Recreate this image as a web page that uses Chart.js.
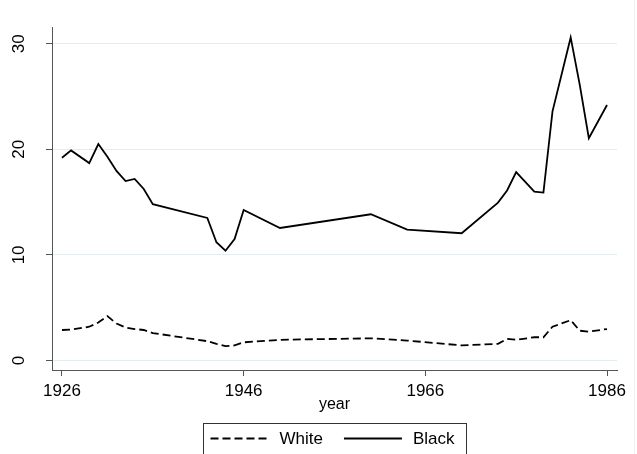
<!DOCTYPE html>
<html>
<head>
<meta charset="utf-8">
<script src="https://cdn.jsdelivr.net/npm/chart.js@4.4.1/dist/chart.umd.min.js"></script>
<style>
  html, body { margin: 0; padding: 0; background: #fff; }
  #wrap { position: relative; width: 637px; height: 454px; }
</style>
</head>
<body>
<div id="wrap"><canvas id="c" width="637" height="454"></canvas></div>
<script>
// Observation years and rates per group
const years = [1926, 1927, 1929, 1930, 1931, 1932, 1933, 1934, 1935, 1936,
               1942, 1943, 1944, 1945, 1946, 1950, 1960, 1964, 1970, 1974,
               1975, 1976, 1978, 1979, 1980, 1982, 1983, 1984, 1986];
const whiteRate = [2.89, 2.92, 3.2, 3.6, 4.2, 3.5, 3.13, 2.98, 2.89, 2.6,
                   1.83, 1.58, 1.36, 1.43, 1.72, 1.96, 2.1, 1.89, 1.43, 1.58,
                   2.05, 1.96, 2.2, 2.2, 3.2, 3.82, 2.82, 2.73, 2.98];
const blackRate = [19.2, 19.9, 18.7, 20.5, 19.3, 17.95, 17.0, 17.2, 16.25, 14.8,
                   13.5, 11.2, 10.4, 11.5, 14.25, 12.55, 13.85, 12.4, 12.05, 14.95,
                   16.1, 17.85, 16.0, 15.9, 23.6, 30.6, 26.1, 21.05, 24.2];
const seriesNames = ['White', 'Black'];
const xTickValues = [1926, 1946, 1966, 1986];
const yTickValues = [0, 10, 20, 30];
const xAxisTitle = 'year';

const FONT = "'Liberation Sans', Arial, Helvetica, sans-serif";
const AXIS_GREY = '#555555';

function toPoints(ys) {
  return years.map((yr, i) => ({ x: yr, y: ys[i] }));
}

// Boxed legend under the axis title, plus the faint outer frame edge
const stataLegend = {
  id: 'stataLegend',
  beforeDraw(chart) {
    const ctx = chart.ctx;
    ctx.save();
    ctx.fillStyle = '#ffffff';
    ctx.fillRect(0, 0, chart.width, chart.height);
    ctx.strokeStyle = '#eef2f4';
    ctx.lineWidth = 1;
    ctx.beginPath();
    ctx.moveTo(634.5, 0);
    ctx.lineTo(634.5, chart.height);
    ctx.stroke();
    ctx.restore();
  },
  afterDraw(chart) {
    const ctx = chart.ctx;
    const area = chart.chartArea;
    const boxW = 263, boxTop = 423.5;
    const cx = (area.left + area.right) / 2;
    const boxLeft = Math.round(cx - boxW / 2) + 0.5;
    ctx.save();
    ctx.strokeStyle = '#333333';
    ctx.lineWidth = 1;
    ctx.strokeRect(boxLeft, boxTop, boxW, 60);

    const lineY = 438.5;
    const items = chart.data.datasets.map((ds, i) => ({
      text: seriesNames[i], dash: ds.borderDash || [], width: ds.borderWidth
    }));
    let x = boxLeft + 7;
    ctx.font = '17px ' + FONT;
    ctx.textBaseline = 'middle';
    ctx.fillStyle = '#000';
    items.forEach((it) => {
      ctx.strokeStyle = '#000';
      ctx.lineWidth = it.width;
      ctx.setLineDash(it.dash);
      ctx.beginPath();
      ctx.moveTo(x, lineY);
      ctx.lineTo(x + 58, lineY);
      ctx.stroke();
      ctx.setLineDash([]);
      ctx.textAlign = 'left';
      ctx.fillText(it.text, x + 69, lineY + 1);
      x += 69 + ctx.measureText(it.text).width + 21;
    });
    ctx.restore();
  }
};

new Chart(document.getElementById('c'), {
  type: 'line',
  data: {
    datasets: [
      {
        label: seriesNames[0],
        data: toPoints(whiteRate),
        borderColor: '#000',
        borderWidth: 1.8,
        borderDash: [8, 4],
        pointRadius: 0,
        tension: 0,
        fill: false
      },
      {
        label: seriesNames[1],
        data: toPoints(blackRate),
        borderColor: '#000',
        borderWidth: 1.8,
        pointRadius: 0,
        tension: 0,
        fill: false
      }
    ]
  },
  options: {
    responsive: false,
    devicePixelRatio: 1,
    animation: false,
    layout: { padding: { top: 22, right: 20, left: 0, bottom: 39.4 } },
    plugins: {
      legend: { display: false },
      tooltip: { enabled: false }
    },
    scales: {
      x: {
        type: 'linear',
        min: 1924.9,
        max: 1987.1,
        afterBuildTicks: (s) => { s.ticks = xTickValues.map(v => ({ value: v })); },
        afterFit: (s) => { s.height = 44.6; },
        ticks: {
          callback: (v) => String(v),
          font: { size: 17, family: FONT },
          color: '#000',
          padding: 5,
          maxRotation: 0,
          minRotation: 0,
          autoSkip: false
        },
        grid: {
          drawOnChartArea: false,
          color: AXIS_GREY,
          tickColor: AXIS_GREY,
          tickLength: 6
        },
        border: { color: AXIS_GREY, width: 1 },
        title: {
          display: true,
          text: xAxisTitle,
          font: { size: 16, family: FONT },
          color: '#000',
          padding: { top: 0, bottom: 0 }
        }
      },
      y: {
        type: 'linear',
        min: -0.9,
        max: 31.52,
        afterBuildTicks: (s) => { s.ticks = yTickValues.map(v => ({ value: v })); },
        afterFit: (s) => { s.width = 52; },
        ticks: {
          font: { size: 17, family: FONT },
          color: '#000',
          minRotation: 90,
          maxRotation: 90,
          crossAlign: 'center',
          padding: 17.5
        },
        grid: {
          color: '#e3ecef',
          lineWidth: 1,
          tickColor: AXIS_GREY,
          tickLength: 6
        },
        border: { color: AXIS_GREY, width: 1 }
      }
    }
  },
  plugins: [stataLegend]
});
</script>
</body>
</html>
